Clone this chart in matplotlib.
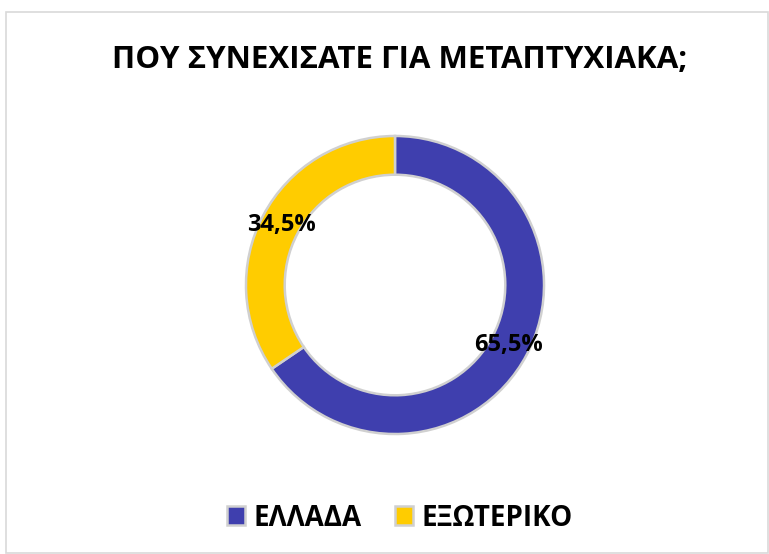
import matplotlib
matplotlib.use('Agg')
import matplotlib.pyplot as plt
from matplotlib.patches import Rectangle
import numpy as np

labels = ['ΕΛΛΑΔΑ', 'ΕΞΩΤΕΡΙΚΟ']
values = [65.5, 34.5]
colors = ['#3F3FAE', '#FFCC00']
title = 'ΠΟΥ ΣΥΝΕΧΙΣΑΤΕ ΓΙΑ ΜΕΤΑΠΤΥΧΙΑΚΑ;'

plt.rcParams['font.family'] = ['Open Sans', 'DejaVu Sans']

fig = plt.figure(figsize=(7.69, 5.54), dpi=100)
fig.patches.append(Rectangle((6/769, 0.002), 762/769, (554-13)/554, transform=fig.transFigure,
                             fill=False, edgecolor='#d9d9d9', linewidth=1.2))

fig.text(400/769, 1 - 60/554, title, ha='center', va='center', fontsize=22.5,
         fontweight='bold', color='black')

# donut
ax = fig.add_axes([(395-152)/769, (269-152)/554, 304/769, 304/554])
wedges, texts = ax.pie(values, colors=colors, startangle=90, counterclock=False,
                       wedgeprops=dict(width=0.26, edgecolor='#d0d0d0', linewidth=1.8))
ax.set_aspect('equal')
ax.set_xlim(-1.02, 1.02)
ax.set_ylim(-1.02, 1.02)

start = 90
for w, v in zip(wedges, values):
    mid = np.deg2rad(start - v * 3.6 / 2)
    start -= v * 3.6
    r = 0.86
    ax.text(r * np.cos(mid), r * np.sin(mid), f'{v:.1f}%'.replace('.', ','),
            ha='center', va='center', fontsize=17, fontweight='bold', color='black')

leg = fig.legend(wedges, labels, loc='center', bbox_to_anchor=(400/769, 1 - 518/554),
                 ncol=2, frameon=False, handlelength=0.65, handleheight=0.65,
                 handletextpad=0.3, columnspacing=1.2,
                 prop=dict(size=20, weight='bold'))

fig.savefig('out.png', dpi=100)
